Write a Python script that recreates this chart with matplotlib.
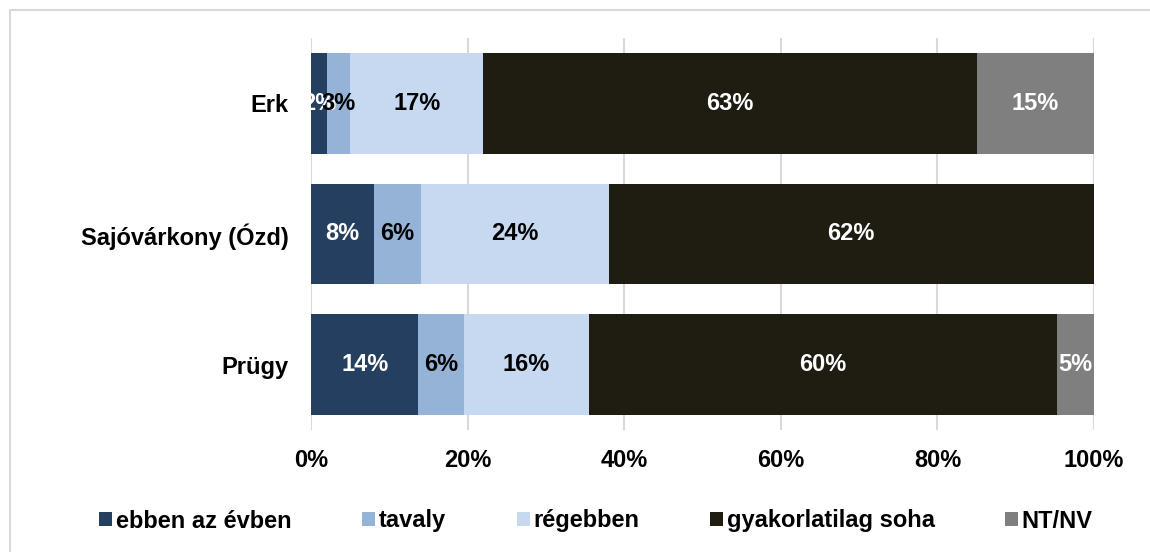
import matplotlib.pyplot as plt
import numpy as np
from matplotlib.patches import Rectangle

plt.rcParams['font.family'] = ['Liberation Sans', 'DejaVu Sans']

places = ['Erk', 'Sajóvárkony (Ózd)', 'Prügy']
series = ['ebben az évben', 'tavaly', 'régebben', 'gyakorlatilag soha', 'NT/NV']
colors = ['#243F60', '#95B3D7', '#C6D9F1', '#1F1C12', '#7F7F7F']
text_colors = ['white', 'black', 'black', 'white', 'white']

# values per series, in order of places
ebben = [2.0, 8.0, 13.7]
tavaly = [3.0, 6.0, 5.8]
regebben = [17.0, 24.0, 16.0]
soha = [63.0, 62.0, 59.8]
ntnv = [15.0, 0.0, 4.7]
values = [ebben, tavaly, regebben, soha, ntnv]

FS = 17

fig = plt.figure(figsize=(11.5, 5.52), dpi=100)
ax = fig.add_axes([311 / 1150, 1 - 430 / 552, (1094 - 311) / 1150, (430 - 38) / 552])

# light border round the chart
fig.patches.append(Rectangle((10 / 1150, -0.1), 1.2, 1 - 10 / 552 + 0.1,
                             transform=fig.transFigure, fill=False,
                             edgecolor='#D9D9D9', linewidth=1.5))

y = np.arange(len(places))
left = np.zeros(len(places))
for name, vals, c, tc in zip(series, values, colors, text_colors):
    vals = np.array(vals)
    ax.barh(y, vals, left=left, height=0.77, color=c, label=name, zorder=3)
    for yi, (l, v) in enumerate(zip(left, vals)):
        if v > 0:
            ax.text(l + v / 2, yi, '{:.0f}%'.format(v), ha='center', va='center',
                    color=tc, fontsize=FS, fontweight='bold', zorder=4)
    left += vals

ax.set_xlim(0, 100)
ax.set_ylim(2.5, -0.5)
ax.set_yticks(y)
ax.set_yticklabels(places, fontsize=FS, fontweight='bold')
ax.set_xticks(np.arange(0, 101, 20))
ax.set_xticklabels(['{}%'.format(v) for v in range(0, 101, 20)], fontsize=FS, fontweight='bold')
ax.tick_params(length=0)
ax.tick_params(axis='x', pad=14)
ax.tick_params(axis='y', pad=16)
ax.grid(axis='x', color='#D9D9D9', linewidth=1.5, zorder=0)
for s in ax.spines.values():
    s.set_visible(False)

fig.legend(loc='center', bbox_to_anchor=(596 / 1150, 1 - 521 / 552), ncol=5, frameon=False,
           prop={'size': FS, 'weight': 'bold'}, handlelength=0.55, handleheight=0.55,
           handletextpad=0.15, columnspacing=3.0)

plt.savefig('out.png', dpi=100)
